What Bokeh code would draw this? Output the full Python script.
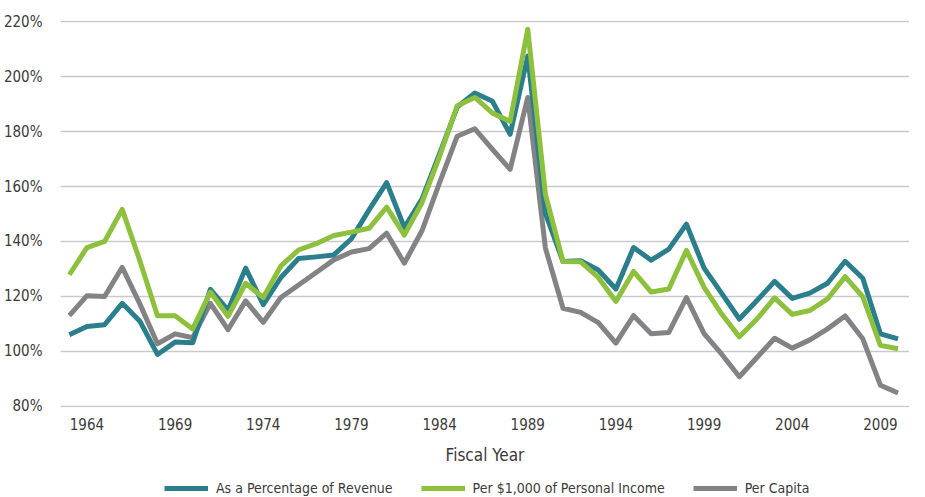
from bokeh.plotting import figure
from bokeh.layouts import column
from bokeh.models import (Legend, LegendItem, FixedTicker, PrintfTickFormatter, Range1d)
from bokeh.embed import file_html
from bokeh.resources import INLINE

years = list(range(1963, 2011))

revenue = [106.1, 109.1, 109.7, 117.5, 111.0, 98.9, 103.4, 103.2, 122.6, 115.0,
           130.3, 117.0, 126.9, 133.8, 134.4, 135.1, 141.0, 151.5, 161.4, 145.1,
           155.4, 172.0, 188.9, 194.0, 191.0, 179.0, 207.5, 150.2, 132.7, 133.0,
           129.6, 122.7, 137.8, 133.2, 137.2, 146.3, 130.3, 121.1, 111.8, 118.5,
           125.5, 119.3, 121.2, 124.8, 132.8, 126.6, 106.4, 104.6]

income = [127.9, 137.8, 140.0, 151.7, 133.0, 113.0, 113.0, 108.2, 121.6, 112.8,
          124.8, 119.6, 131.1, 136.9, 139.2, 142.2, 143.4, 144.8, 152.5, 142.3,
          154.1, 171.0, 189.4, 192.4, 186.7, 183.7, 217.2, 157.2, 132.7, 132.6,
          126.9, 118.2, 129.1, 121.6, 122.7, 136.8, 123.3, 113.6, 105.3, 111.8,
          119.5, 113.5, 114.9, 119.1, 127.2, 119.9, 102.2, 101.0]

capita = [113.0, 120.3, 120.0, 130.6, 117.3, 102.8, 106.4, 105.0, 117.5, 107.9,
          118.4, 110.6, 119.6, 124.2, 128.7, 133.3, 136.2, 137.4, 143.0, 132.1,
          143.9, 161.4, 178.3, 181.0, 173.5, 166.2, 192.4, 137.6, 115.7, 114.2,
          110.5, 103.0, 113.0, 106.4, 106.9, 119.6, 106.5, 99.0, 90.8, 97.8,
          104.8, 101.2, 104.2, 108.2, 112.9, 104.6, 87.7, 84.9]

series_names = ["As a Percentage of Revenue", "Per $1,000 of Personal Income", "Per Capita"]
x_ticks = [1964, 1969, 1974, 1979, 1984, 1989, 1994, 1999, 2004, 2009]
y_ticks = [80, 100, 120, 140, 160, 180, 200, 220]

TEAL = "#2b7f8d"
GREEN = "#8dc03c"
GRAY = "#838386"
FONT = "DejaVu Sans Condensed"
TXT = "#3a3a3a"

p = figure(width=909, height=469, output_backend="svg", toolbar_location=None,
           x_range=Range1d(1962.5, 2010.65), y_range=Range1d(79.6, 220.4),
           min_border_left=50, min_border_right=0, min_border_top=20,
           min_border_bottom=62)
p.outline_line_color = None
p.background_fill_color = "white"
p.border_fill_color = "white"

p.xgrid.visible = False
p.ygrid.ticker = FixedTicker(ticks=y_ticks)
p.ygrid.grid_line_color = "#c9c9c9"
p.ygrid.grid_line_width = 1.5

p.yaxis.ticker = FixedTicker(ticks=y_ticks)
p.yaxis.formatter = PrintfTickFormatter(format="%d%%")
p.xaxis.ticker = FixedTicker(ticks=x_ticks)
for ax in (p.xaxis[0], p.yaxis[0]):
    ax.axis_line_color = None
    ax.major_tick_line_color = None
    ax.minor_tick_line_color = None
    ax.major_label_text_font = FONT
    ax.major_label_text_font_size = "15px"
    ax.major_label_text_color = TXT
p.yaxis.major_label_standoff = 12
p.xaxis.major_label_standoff = 4
p.xaxis.axis_label = "Fiscal Year"
p.xaxis.axis_label_text_font = FONT
p.xaxis.axis_label_text_font_size = "17px"
p.xaxis.axis_label_text_font_style = "normal"
p.xaxis.axis_label_text_color = TXT
p.xaxis.axis_label_standoff = 12

r_gray = p.line(years, capita, line_color=GRAY, line_width=5, line_join="round")
r_teal = p.line(years, revenue, line_color=TEAL, line_width=5, line_join="round")
r_green = p.line(years, income, line_color=GREEN, line_width=5, line_join="round")

# legend strip below the chart; its lines use the same data but lie outside
# the strip's visible range, so only the legend entries show
pl = figure(width=909, height=27, output_backend="svg", toolbar_location=None,
            x_axis_type=None, y_axis_type=None,
            x_range=Range1d(0, 1), y_range=Range1d(0, 1),
            min_border_left=0, min_border_right=0, min_border_top=0,
            min_border_bottom=0)
pl.grid.visible = False
pl.outline_line_color = None
lg_teal = pl.line(years, revenue, line_color=TEAL, line_width=5)
lg_green = pl.line(years, income, line_color=GREEN, line_width=5)
lg_gray = pl.line(years, capita, line_color=GRAY, line_width=5)

legend = Legend(items=[LegendItem(label=series_names[0], renderers=[lg_teal]),
                       LegendItem(label=series_names[1], renderers=[lg_green]),
                       LegendItem(label=series_names[2], renderers=[lg_gray])],
                orientation="horizontal", location=(104, 0),
                glyph_width=44, glyph_height=16, label_standoff=8, spacing=28,
                padding=0, margin=0, border_line_color=None,
                background_fill_alpha=0,
                label_text_font=FONT, label_text_font_size="14px",
                label_text_color=TXT)
pl.add_layout(legend, "center")

layout = column(p, pl, spacing=0)
open("out.html", "w").write(file_html(layout, INLINE))
